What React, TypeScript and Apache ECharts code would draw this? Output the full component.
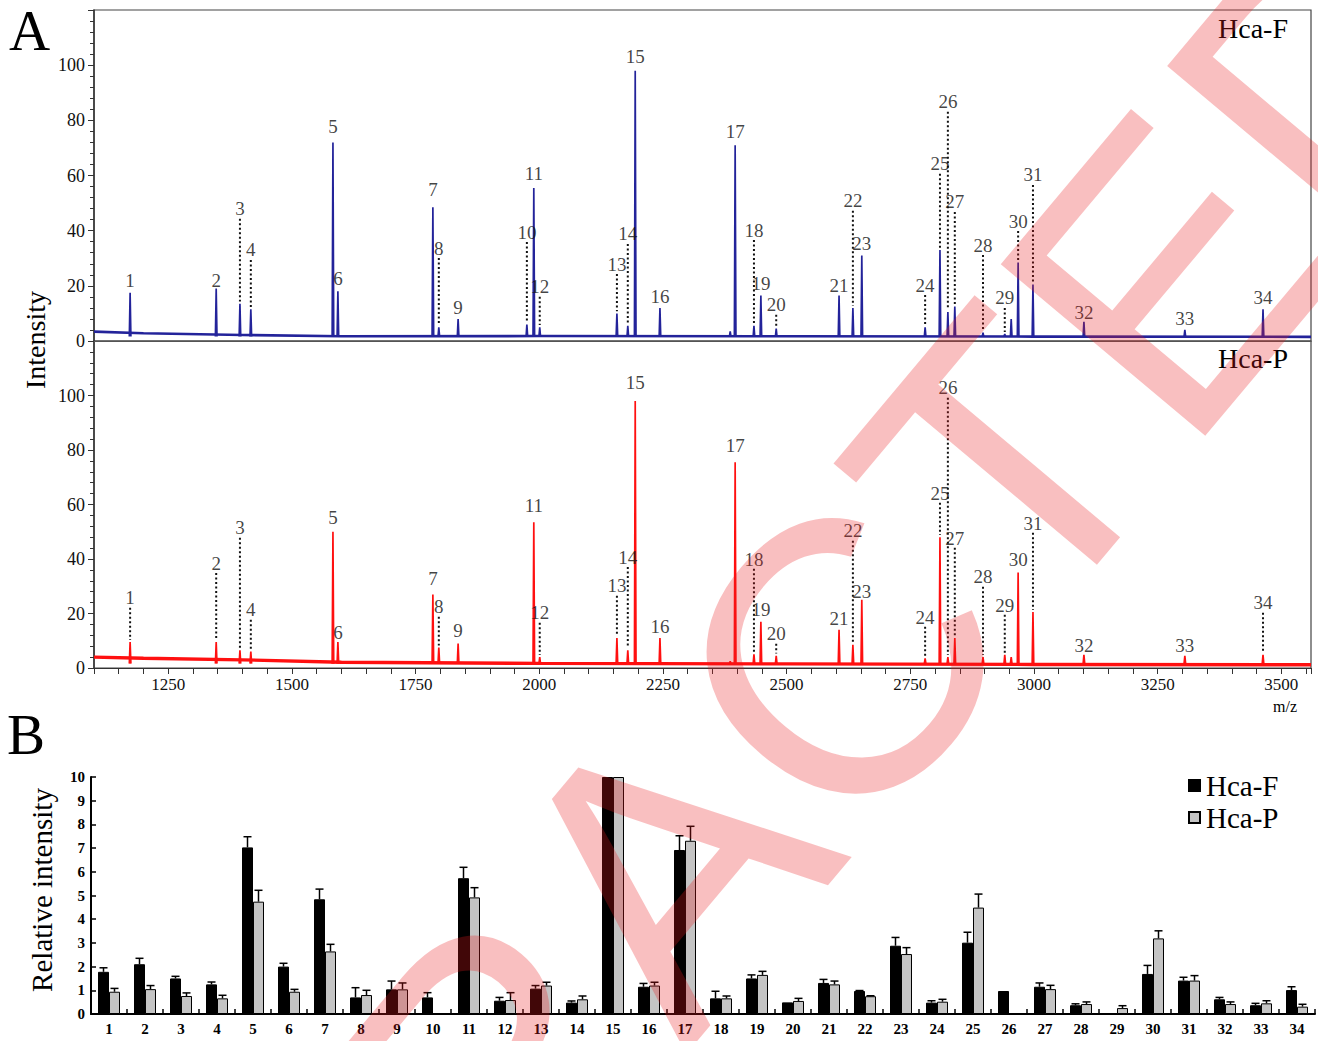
import React, { useEffect, useRef } from "react";
import * as echarts from "echarts";

// ---------- Panel A : MALDI spectra ----------
const PEAK_NO = [
  1, 2, 3, 4, 5, 6, 7, 8, 9, 10, 11, 12, 13, 14, 15, 16, 17, 18, 19, 20, 21, 22, 23, 24, 25, 26, 27,
  28, 29, 30, 31, 32, 33, 34,
];
const PEAK_MZ = [
  1173, 1347, 1395, 1417, 1583, 1593, 1785, 1797, 1836, 1975, 1989, 2001, 2157, 2179, 2194, 2244,
  2396, 2434, 2448, 2479, 2606, 2634, 2652, 2780, 2810, 2826, 2840, 2897, 2941, 2968, 2998, 3101,
  3305, 3463,
];
const HCA_F_INT = [
  17.5, 19, 13.5, 11.5, 72, 18, 48.5, 5, 8, 6, 55.5, 5, 10, 5.5, 98, 12, 71, 5.5, 16.5, 4.5, 16.5,
  12, 31, 5, 33, 10.5, 12.5, 3, 2.5, 28.5, 20.5, 7, 4, 11.5,
];
const HCA_P_INT = [
  9.5, 9.5, 6.5, 6, 50, 9.5, 27, 7.5, 9, 2, 53.5, 4, 11, 6.5, 98, 11, 75.5, 5, 17, 4.5, 14, 8.5, 25,
  3.5, 48, 4, 11, 4, 4.8, 35, 20.5, 4.8, 4.5, 4.8,
];
// unlabelled extra peaks
const EXTRA_MZ = [2954, 2386];
const EXTRA_F_INT = [8, 3.5];
const EXTRA_P_INT = [4, 2.5];
// baseline (noise level) knots
const BASE_MZ = [1100, 1200, 1400, 1600, 2000, 2500, 3000, 3560];
const BASE_F = [3.4, 2.8, 2.2, 1.7, 1.8, 1.7, 1.6, 1.5];
const BASE_P = [4.0, 3.6, 3.0, 2.1, 1.7, 1.5, 1.3, 1.2];
// peak number annotations (value-unit height of label centre)
const LABEL_Y_F = [
  22.1, 22.1, 47.9, 33, 77.6, 22.5, 55.1, 33.7, 12, 39.5, 60.6, 19.6, 27.9, 38.8, 103.3, 16, 76.1,
  40.2, 20.7, 13.1, 20.3, 50.8, 35.2, 20.3, 64.2, 86.7, 50.4, 34.8, 15.6, 43.5, 60.2, 10.5, 8.3,
  15.6,
];
const LABEL_Y_P = [
  25.7, 38.5, 51.4, 21.3, 55.4, 13.2, 32.7, 22.4, 13.6, null, 59.8, 20.2, 30.1, 40.7, 104.6, 15.4,
  81.8, 40, 21.3, 12.5, 18, 50.3, 27.9, 18.7, 64.2, 102.8, 47.7, 33.4, 23.1, 40, 53.2, 8.4, 8.4,
  23.9,
];
const DOTTED_F = [3, 4, 8, 10, 12, 13, 14, 18, 20, 22, 24, 25, 26, 27, 28, 29, 30, 31];
const DOTTED_P = [1, 2, 3, 4, 8, 12, 13, 14, 18, 20, 22, 24, 25, 26, 27, 28, 29, 31, 34];
const MZ_LABELS = [1250, 1500, 1750, 2000, 2250, 2500, 2750, 3000, 3250, 3500];

// ---------- Panel B : relative intensity ----------
const B_CATS = PEAK_NO.map(String);
const F_MEAN = [
  1.78, 2.1, 1.5, 1.25, 7.03, 2.0, 4.84, 0.7, 1.04, 0.7, 5.73, 0.56, 1.07, 0.48, 10, 1.15, 6.92,
  0.66, 1.5, 0.49, 1.31, 0.97, 2.88, 0.48, 3.01, 0.97, 1.15, 0.37, 0, 1.69, 1.41, 0.62, 0.37, 1.01,
];
const F_SD = [
  0.17, 0.25, 0.09, 0.1, 0.45, 0.14, 0.43, 0.41, 0.35, 0.2, 0.46, 0.14, 0.13, 0.07, 0, 0.14, 0.6,
  0.3, 0.15, 0, 0.15, 0.02, 0.35, 0.08, 0.44, 0, 0.16, 0.06, 0, 0.36, 0.14, 0.08, 0.08, 0.14,
];
const P_MEAN = [
  0.94, 1.05, 0.76, 0.66, 4.74, 0.94, 2.64, 0.8, 1.04, 0, 4.92, 0.59, 1.2, 0.62, 10, 1.2, 7.31,
  0.66, 1.65, 0.55, 1.25, 0.75, 2.53, 0.52, 4.49, 0, 1.05, 0.42, 0.25, 3.19, 1.41, 0.42, 0.45, 0.31,
];
const P_SD = [
  0.14, 0.15, 0.13, 0.13, 0.48, 0.1, 0.3, 0.2, 0.27, 0, 0.41, 0.31, 0.14, 0.14, 0, 0.14, 0.61, 0.1,
  0.15, 0.11, 0.14, 0.02, 0.27, 0.1, 0.57, 0, 0.16, 0.09, 0.1, 0.32, 0.21, 0.09, 0.11, 0.1,
];

const SERIF = "Liberation Serif";
const BLUE = "#23239a";
const RED = "#ff1010";

function spikes(mz: number[], h: number[], foot: number) {
  const out: any[] = [];
  mz.forEach((m, i) => {
    out.push([m - 1.6, foot], [m, h[i]], [m + 1.6, foot], [m + 1.6, "-"]);
  });
  return out;
}

function leaders(labelY: (number | null)[], h: number[], which: number[]) {
  const out: any[] = [];
  which.forEach((n) => {
    const i = n - 1;
    const ly = labelY[i];
    if (ly == null) return;
    out.push([PEAK_MZ[i], ly - 3.6], [PEAK_MZ[i], h[i] + 0.8], [PEAK_MZ[i], "-"]);
  });
  return out;
}

function labelData(labelY: (number | null)[]) {
  const out: any[] = [];
  labelY.forEach((ly, i) => {
    if (ly == null) return;
    out.push([PEAK_MZ[i], ly, PEAK_NO[i]]);
  });
  return out;
}

function errRender(offset: number) {
  return (params: any, api: any) => {
    const i = api.value(0);
    const m = api.value(1);
    const sd = api.value(2);
    if (!sd) return { type: "group", children: [] };
    const b = api.coord([i, m]);
    const t = api.coord([i, m + sd]);
    const x = b[0] + offset;
    return {
      type: "group",
      children: [
        { type: "line", shape: { x1: x, y1: b[1], x2: x, y2: t[1] }, style: { stroke: "#000", lineWidth: 1.5 } },
        { type: "line", shape: { x1: x - 4, y1: t[1], x2: x + 4, y2: t[1] }, style: { stroke: "#000", lineWidth: 1.5 } },
      ],
    };
  };
}

export default function App() {
  const ref = useRef<HTMLDivElement>(null);
  useEffect(() => {
    if (!ref.current) return;
    const chart = echarts.init(ref.current, null, { renderer: "svg" });

    const yA = (gridIndex: number) => ({
      gridIndex,
      type: "value",
      min: 0,
      max: 120,
      interval: 20,
      axisLine: { show: true, lineStyle: { color: "#333", width: 1.5 } },
      axisTick: { show: true, inside: false, length: 6, lineStyle: { color: "#333" } },
      minorTick: { show: true, splitNumber: 5, length: 4, lineStyle: { color: "#333" } },
      splitLine: { show: false },
      minorSplitLine: { show: false },
      axisLabel: {
        formatter: (v: number) => (v === 120 ? "" : String(v)),
        fontSize: 18,
        fontFamily: SERIF,
        color: "#111",
        margin: 9,
      },
    });

    const labelStyle = {
      show: true,
      position: "inside",
      formatter: (p: any) => String(p.data[2]),
      fontSize: 19,
      fontFamily: SERIF,
      color: "#111",
    };

    const option: any = {
      animation: false,
      textStyle: { fontFamily: SERIF },
      grid: [
        { left: 94, top: 10, width: 1217, height: 331, show: true, borderColor: "#444", borderWidth: 1.2, backgroundColor: "transparent" },
        { left: 94, top: 341, width: 1217, height: 327, show: true, borderColor: "#444", borderWidth: 1.2, backgroundColor: "transparent" },
        { left: 91, top: 777, width: 1224, height: 237 },
      ],
      xAxis: [
        {
          gridIndex: 0,
          type: "value",
          min: 1100,
          max: 3560,
          interval: 50,
          axisLine: { show: true, lineStyle: { color: "#555", width: 1.2 } },
          axisTick: { show: false },
          axisLabel: { show: false },
          splitLine: { show: false },
        },
        {
          gridIndex: 1,
          type: "value",
          min: 1100,
          max: 3560,
          interval: 50,
          axisLine: { show: true, lineStyle: { color: "#333", width: 1.2 } },
          axisTick: { show: true, length: 6, lineStyle: { color: "#333" } },
          axisLabel: {
            formatter: (v: number) => (MZ_LABELS.indexOf(v) >= 0 ? String(v) : ""),
            fontSize: 17,
            fontFamily: SERIF,
            color: "#111",
            margin: 8,
          },
          splitLine: { show: false },
        },
        {
          gridIndex: 2,
          type: "category",
          data: B_CATS,
          axisLine: { show: true, lineStyle: { color: "#000", width: 2 } },
          axisTick: { show: true, inside: true, length: 5, lineStyle: { color: "#000", width: 1.5 } },
          axisLabel: { fontSize: 15, fontWeight: "bold", fontFamily: SERIF, color: "#000", margin: 7, interval: 0 },
        },
      ],
      yAxis: [
        yA(0),
        yA(1),
        {
          gridIndex: 2,
          type: "value",
          min: 0,
          max: 10,
          interval: 1,
          axisLine: { show: true, lineStyle: { color: "#000", width: 2 } },
          axisTick: { show: true, inside: true, length: 5, lineStyle: { color: "#000", width: 1.5 } },
          splitLine: { show: false },
          axisLabel: { fontSize: 15, fontWeight: "bold", fontFamily: SERIF, color: "#000", margin: 6 },
        },
      ],
      legend: {
        data: ["Hca-F", "Hca-P"],
        orient: "vertical",
        left: 1188,
        top: 771,
        padding: 0,
        itemWidth: 11,
        itemHeight: 11,
        itemGap: 3,
        icon: "rect",
        textStyle: { fontSize: 29, fontFamily: SERIF, color: "#000", padding: [0, 0, 0, 1] },
      },
      series: [
        // baselines
        { type: "line", xAxisIndex: 0, yAxisIndex: 0, data: BASE_MZ.map((m, i) => [m, BASE_F[i]]), symbol: "none", lineStyle: { color: BLUE, width: 2.6 }, silent: true },
        { type: "line", xAxisIndex: 1, yAxisIndex: 1, data: BASE_MZ.map((m, i) => [m, BASE_P[i]]), symbol: "none", lineStyle: { color: RED, width: 3.4 }, silent: true },
        // peaks
        { type: "line", xAxisIndex: 0, yAxisIndex: 0, data: spikes(PEAK_MZ.concat(EXTRA_MZ), HCA_F_INT.concat(EXTRA_F_INT), 1.6), symbol: "none", connectNulls: false, lineStyle: { color: BLUE, width: 1.7 }, silent: true },
        { type: "line", xAxisIndex: 1, yAxisIndex: 1, data: spikes(PEAK_MZ.concat(EXTRA_MZ), HCA_P_INT.concat(EXTRA_P_INT), 1.6), symbol: "none", connectNulls: false, lineStyle: { color: RED, width: 1.7 }, silent: true },
        // dotted leaders
        { type: "line", xAxisIndex: 0, yAxisIndex: 0, data: leaders(LABEL_Y_F, HCA_F_INT, DOTTED_F), symbol: "none", connectNulls: false, lineStyle: { color: "#111", width: 2, type: [2, 2.5] }, silent: true, z: 3 },
        { type: "line", xAxisIndex: 1, yAxisIndex: 1, data: leaders(LABEL_Y_P, HCA_P_INT, DOTTED_P), symbol: "none", connectNulls: false, lineStyle: { color: "#111", width: 2, type: [2, 2.5] }, silent: true, z: 3 },
        // peak numbers
        { type: "scatter", xAxisIndex: 0, yAxisIndex: 0, data: labelData(LABEL_Y_F), symbolSize: 1, itemStyle: { color: "transparent" }, label: labelStyle, silent: true, z: 4 },
        { type: "scatter", xAxisIndex: 1, yAxisIndex: 1, data: labelData(LABEL_Y_P), symbolSize: 1, itemStyle: { color: "transparent" }, label: labelStyle, silent: true, z: 4 },
        // panel B bars
        { name: "Hca-F", type: "bar", xAxisIndex: 2, yAxisIndex: 2, data: F_MEAN, barWidth: 11, barGap: "0%", itemStyle: { color: "#000", borderColor: "#000", borderWidth: 1 } },
        { name: "Hca-P", type: "bar", xAxisIndex: 2, yAxisIndex: 2, data: P_MEAN, barWidth: 11, barGap: "0%", itemStyle: { color: "#c4c4c4", borderColor: "#000", borderWidth: 1 } },
        { type: "custom", xAxisIndex: 2, yAxisIndex: 2, data: F_MEAN.map((m, i) => [i, m, F_SD[i]]), encode: { x: 0, y: 1 }, renderItem: errRender(-5.5), z: 5, silent: true },
        { type: "custom", xAxisIndex: 2, yAxisIndex: 2, data: P_MEAN.map((m, i) => [i, m, P_SD[i]]), encode: { x: 0, y: 1 }, renderItem: errRender(5.5), z: 5, silent: true },
      ],
      graphic: {
        elements: [
          { type: "text", x: 9, y: 2, style: { text: "A", fontSize: 57, fontFamily: SERIF, fill: "#000", align: "left", verticalAlign: "top" } },
          { type: "text", x: 7, y: 706, style: { text: "B", fontSize: 57, fontFamily: SERIF, fill: "#000", align: "left", verticalAlign: "top" } },
          { type: "text", x: 35, y: 340, rotation: Math.PI / 2, style: { text: "Intensity", fontSize: 28, fontFamily: SERIF, fill: "#000", align: "center", verticalAlign: "middle" } },
          { type: "text", x: 42, y: 890, rotation: Math.PI / 2, style: { text: "Relative intensity", fontSize: 29, fontFamily: SERIF, fill: "#000", align: "center", verticalAlign: "middle" } },
          { type: "text", x: 1288, y: 28, style: { text: "Hca-F", fontSize: 28, fontFamily: SERIF, fill: "#000", align: "right", verticalAlign: "middle" } },
          { type: "text", x: 1288, y: 358, style: { text: "Hca-P", fontSize: 28, fontFamily: SERIF, fill: "#000", align: "right", verticalAlign: "middle" } },
          { type: "text", x: 1285, y: 706, style: { text: "m/z", fontSize: 16, fontFamily: SERIF, fill: "#000", align: "center", verticalAlign: "middle" } },
          {
            type: "text",
            x: 666,
            y: 869,
            rotation: (50 * Math.PI) / 180,
            z: 100,
            silent: true,
            style: { text: "RETRACTED", fontSize: 388, fontFamily: "Liberation Sans", fill: "rgba(235,25,30,0.28)", align: "center", verticalAlign: "middle" },
          },
        ],
      },
    };
    chart.setOption(option);
    return () => chart.dispose();
  }, []);
  return <div ref={ref} style={{ position: "absolute", left: 0, top: 0, width: 1318, height: 1041, background: "#fff" }} />;
}
